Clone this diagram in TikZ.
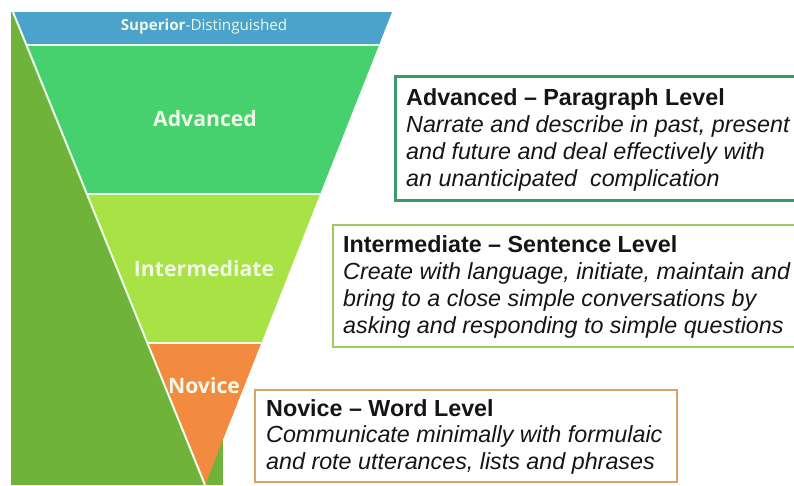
\documentclass[tikz,border=0pt]{standalone}
\usepackage{fontspec}
\newfontfamily\boxfont{Liberation Sans}
\newfontfamily\lblfont{Open Sans}
\definecolor{bgreen}{HTML}{6FB33B}
\definecolor{supblue}{HTML}{4BA3CB}
\definecolor{advgreen}{HTML}{46D06E}
\definecolor{intgreen}{HTML}{A8E244}
\definecolor{novorange}{HTML}{F28B3F}
\definecolor{advborder}{HTML}{3A9A6C}
\definecolor{intborder}{HTML}{9CCB62}
\definecolor{novborder}{HTML}{D9A36A}
\definecolor{lbltext}{HTML}{EEF8E6}
\definecolor{txt}{HTML}{151515}
\tikzset{
  band/.style={draw=white!92!green, line width=2pt, line join=miter},
  lbl/.style={text=lbltext, anchor=base, font=\lblfont\bfseries\fontsize{21.2}{25}\selectfont, inner sep=0pt},
  infobox/.style={line width=2.6pt, fill=white},
  infotext/.style={text=txt, anchor=base west, inner sep=0pt, align=left,
    font=\boxfont\fontsize{23.3}{26.7}\selectfont},
}
\begin{document}
\begin{tikzpicture}[x=1pt,y=-1pt]
\useasboundingbox (0,0) rectangle (794,485);
\fill[white] (0,0) rectangle (794,485);
% dark green backdrop
\fill[bgreen] (11,12) rectangle (223,485);
% funnel bands
\coordinate (t1) at (13,12);    \coordinate (t2) at (392,12);
\coordinate (a1) at (26.4,45);  \coordinate (a2) at (379,45);
\coordinate (b1) at (86.9,194); \coordinate (b2) at (320.1,194);
\coordinate (c1) at (147.4,343);\coordinate (c2) at (261.3,343);
\coordinate (tip) at (205,485);
\fill[supblue] (t1) -- (t2) -- (a2) -- (a1) -- cycle;
\fill[advgreen] (a1) -- (a2) -- (b2) -- (b1) -- cycle;
\fill[intgreen] (b1) -- (b2) -- (c2) -- (c1) -- cycle;
\fill[novorange] (c1) -- (c2) -- (tip) -- cycle;
\draw[band] (a1) -- (a2) (b1) -- (b2) (c1) -- (c2);
\draw[band] (t1) -- (tip);
% funnel labels
\node[lbl, font=\lblfont\fontsize{15.2}{18}\selectfont] (lsup) at (204,30.5) {\textbf{Superior}-Distinguished};
\node[lbl] (ladv) at (205,126.7) {Advanced};
\node[lbl] (lint) at (204,276) {Intermediate};
\node[lbl] (lnov) at (204,393.3) {Novice};
% info boxes
\draw[infobox, draw=advborder, line width=3pt] (395,76) rectangle (805,200);
\draw[infobox, draw=intborder] (333,225) rectangle (805,347);
\draw[infobox, draw=novborder] (255,390) rectangle (677,482);
\node[infotext] (tadv) at (406,186) {\textbf{Advanced – Paragraph Level}\\
\textit{Narrate and describe in past, present}\\
\textit{and future and deal effectively with}\\
\textit{an unanticipated\ \ complication}};
\node[infotext] (tint) at (343,333) {\textbf{Intermediate – Sentence Level}\\
\textit{Create with language, initiate, maintain and}\\
\textit{bring to a close simple conversations by}\\
\textit{asking and responding to simple questions}};
\node[infotext] (tnov) at (266,469.4) {\textbf{Novice – Word Level}\\
\textit{Communicate minimally with formulaic}\\
\textit{and rote utterances, lists and phrases}};
\end{tikzpicture}
\end{document}
